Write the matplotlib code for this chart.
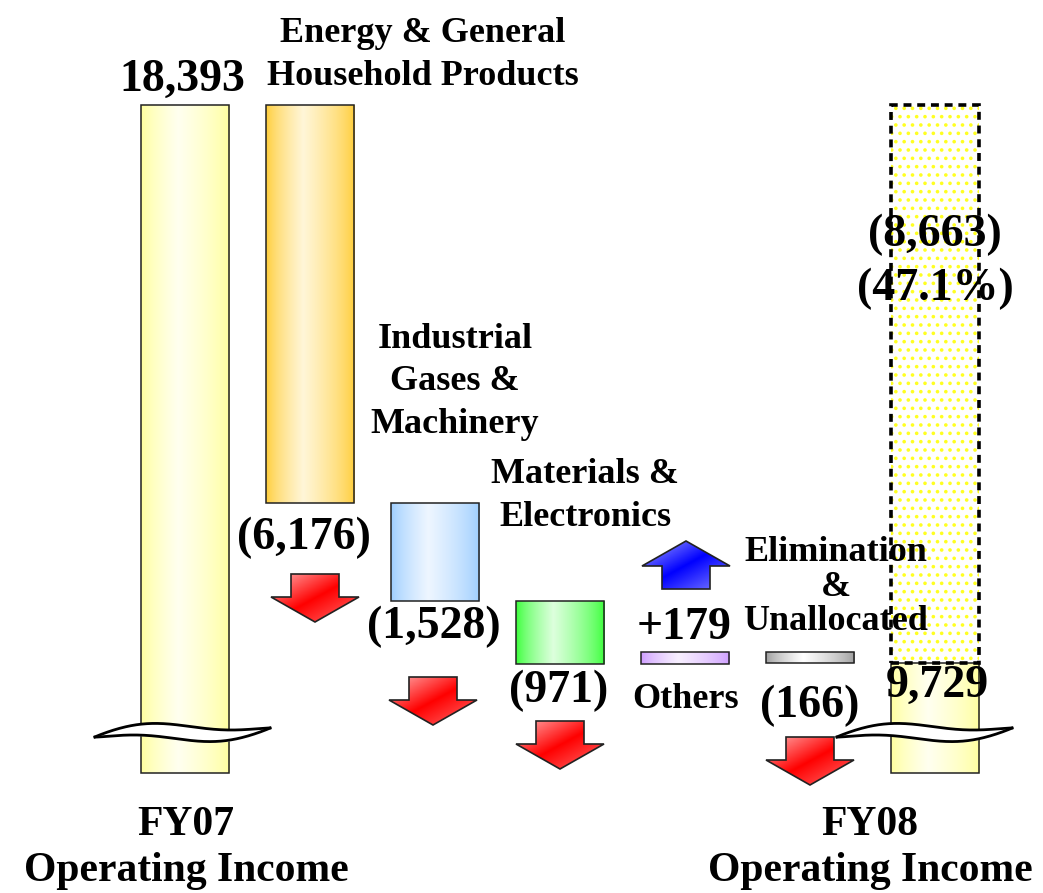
import numpy as np
import matplotlib
matplotlib.use("Agg")
import matplotlib.pyplot as plt
from matplotlib.patches import Rectangle, Polygon
from matplotlib.colors import to_rgb

plt.rcParams['font.family'] = ['Liberation Serif', 'DejaVu Serif']
plt.rcParams['font.weight'] = 'bold'
plt.rcParams['hatch.linewidth'] = 1.4

# data
fy07 = 18393
fy08 = 9729
segments = ["Energy & General\nHousehold Products", "Industrial\nGases &\nMachinery",
            "Materials &\nElectronics", "Others", "Elimination\n&\nUnallocated"]
changes = [-6176, -1528, -971, 179, -166]
decline = -8663
decline_pct = -47.1

# bar colours (edge of gradient, light centre)
bar_colors = [("#FFFF99", "#FFFFF0"), ("#FFCC33", "#FFF6D8"), ("#99CCFF", "#EEF6FF"),
              ("#33FF33", "#DDFFDD"), ("#CC99FF", "#F8F0FF"), ("#999999", "#FFFFFF"),
              ("#FFFF99", "#FFFFF0")]

AXIS_FLOOR = 8020   # value at the bottom of the broken axis
W = 0.71

fig = plt.figure(figsize=(10.43, 8.93), dpi=100)
ax = fig.add_axes([0, 0, 1, 1])
ax.set_xlim(-1.48, 6.864)
ax.set_ylim(6157, 20023)
ax.axis("off")

# overlay in pixel space for annotations
ov = fig.add_axes([0, 0, 1, 1])
ov.set_xlim(0, 1043)
ov.set_ylim(893, 0)
ov.axis("off")
ov.patch.set_visible(False)


def gradient_bar(a, x, lo, hi, edge, light, center=0.42):
    t = np.linspace(0, 1, 200)
    f = np.where(t < center, t / center, (1 - t) / (1 - center)) ** 0.7
    e, l = np.array(to_rgb(edge)), np.array(to_rgb(light))
    img = (e[None, :] * (1 - f[:, None]) + l[None, :] * f[:, None])[None, :, :]
    rect = Rectangle((x - W / 2, lo), W, hi - lo, facecolor="none",
                     edgecolor="#222222", lw=1.1, zorder=3)
    a.add_patch(rect)
    im = a.imshow(img, extent=(x - W / 2, x + W / 2, lo, hi), aspect="auto",
                  zorder=2, interpolation="bilinear")
    im.set_clip_path(rect)


# bars
levels = [fy07]
for c in changes:
    levels.append(levels[-1] + c)

gradient_bar(ax, 0, AXIS_FLOOR, fy07, *bar_colors[0])
for i, c in enumerate(changes):
    lo, hi = sorted([levels[i], levels[i + 1]])
    gradient_bar(ax, i + 1, lo, hi, *bar_colors[i + 1])
gradient_bar(ax, 6, AXIS_FLOOR, fy08, *bar_colors[6])

# dotted decline box on FY08
ax.add_patch(Rectangle((6 - W / 2, fy08), W, fy07 - fy08, facecolor="none",
                       edgecolor="#FFFF22", hatch="..", lw=0, zorder=2))
ax.add_patch(Rectangle((6 - W / 2, fy08), W, fy07 - fy08, facecolor="none",
                       edgecolor="black", lw=2.6, linestyle=(0, (2.2, 1.6)), zorder=3))
ax.set_xlim(-1.48, 6.864)
ax.set_ylim(6157, 20023)


def block_arrow(cx, y0, up=False, light="#FFB0B0", full="#FF0000", end="#FF7070"):
    sw, hw, sh, hh = 24, 44, 23, 25
    H = sh + hh
    if not up:
        pts = [(cx - sw, y0), (cx + sw, y0), (cx + sw, y0 + sh), (cx + hw, y0 + sh),
               (cx, y0 + H), (cx - hw, y0 + sh), (cx - sw, y0 + sh)]
    else:
        pts = [(cx - sw, y0 + H), (cx + sw, y0 + H), (cx + sw, y0 + hh), (cx + hw, y0 + hh),
               (cx, y0), (cx - hw, y0 + hh), (cx - sw, y0 + hh)]
    poly = Polygon(pts, closed=True, facecolor="none", edgecolor="#222222", lw=1.2, zorder=5)
    ov.add_patch(poly)
    jj, ii = np.meshgrid(np.linspace(0, 1, 80), np.linspace(0, 1, 50))
    s = (jj + ii) / 2
    cl, cf, ce = (np.array(to_rgb(c)) for c in (light, full, end))
    w1 = np.clip(s / 0.5, 0, 1)[..., None]
    w2 = np.clip((s - 0.5) / 0.5, 0, 1)[..., None]
    img = np.where(s[..., None] < 0.5, cl * (1 - w1) + cf * w1, cf * (1 - w2) + ce * w2)
    im = ov.imshow(img, extent=(cx - hw, cx + hw, y0 + H, y0), aspect="auto",
                   zorder=4, interpolation="bilinear")
    im.set_clip_path(poly)


block_arrow(315, 574)
block_arrow(433, 677)
block_arrow(560, 721)
block_arrow(810, 737)
block_arrow(686, 541, up=True, light="#A8A8FF", full="#0000FF", end="#8080FF")


def axis_break(x0, ya):
    x = np.linspace(x0, x0 + 175, 200)
    t = (x - x0) / 175
    c = ya - 9 * t - 5 * np.sin(2 * np.pi * t)
    h = 7 * np.sin(np.pi * t) ** 0.8
    ov.fill_between(x, c - h, c + h, color="white", zorder=6)
    ov.plot(x, c - h, color="black", lw=2, zorder=7)
    ov.plot(x, c + h, color="black", lw=2, zorder=7)


axis_break(95, 737)
axis_break(837, 737)
ov.set_xlim(0, 1043)
ov.set_ylim(893, 0)


def fmt(v):
    return f"({abs(v):,})" if v < 0 else f"+{v:,}"


big = dict(fontsize=33, fontweight="bold", ha="center", va="center", zorder=10)
mid = dict(fontsize=26, fontweight="bold", ha="center", va="center", zorder=10)

ov.text(182, 80, f"{fy07:,}", **big)
ov.text(937, 686, f"{fy08:,}", **big)
ov.text(935, 262, f"{fmt(decline)}\n({abs(decline_pct)}%)", linespacing=1.35, **big)

value_pos = [(304, 538), (434, 627), (559, 691), (684, 628), (810, 706)]
for (x, y), v in zip(value_pos, changes):
    ov.text(x, y, fmt(v), **big)

label_pos = [(423, 55, 1.4), (455, 382, 1.38), (585, 496, 1.38), (686, 700, 1.2), (836, 587, 1.05)]
for (x, y, ls), lab in zip(label_pos, segments):
    ov.text(x, y, lab, linespacing=ls, **mid)

ov.text(186, 848, "FY07\nOperating Income", fontsize=30, fontweight="bold",
        ha="center", va="center", linespacing=1.3)
ov.text(870, 848, "FY08\nOperating Income", fontsize=30, fontweight="bold",
        ha="center", va="center", linespacing=1.3)

fig.savefig("out.png", dpi=100)
